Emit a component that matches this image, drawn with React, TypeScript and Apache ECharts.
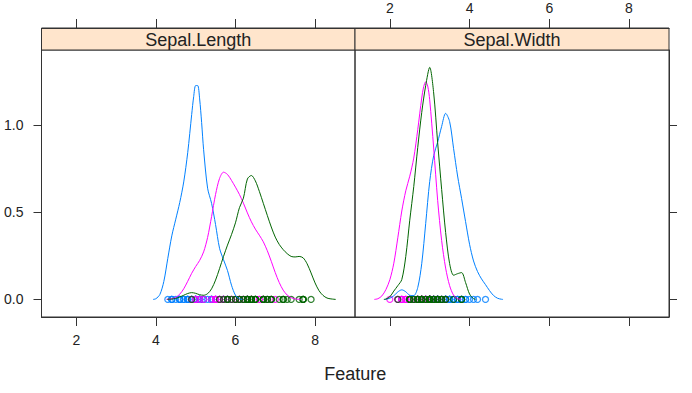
import React, { useEffect, useRef } from "react";
import * as echarts from "echarts";

// Panels (features) and species
const panels = ["Sepal.Length", "Sepal.Width"];
const speciesColors = ["#0080ff", "#ff00ff", "#006400"];

// Tick labels
const xTicks = [2, 4, 6, 8];
const yTicks = [0, 0.5, 1.0];
const xRange = [1.126, 9.004];
const yRange = [-0.101, 1.433];

// Raw observations (iris), drawn as points along y = 0
const setosaSL = [5.1,4.9,4.7,4.6,5.0,5.4,4.6,5.0,4.4,4.9,5.4,4.8,4.8,4.3,5.8,5.7,5.4,5.1,5.7,5.1,5.4,5.1,4.6,5.1,4.8,5.0,5.0,5.2,5.2,4.7,4.8,5.4,5.2,5.5,4.9,5.0,5.5,4.9,4.4,5.1,5.0,4.5,4.4,5.0,5.1,4.8,5.1,4.6,5.3,5.0];
const versicolorSL = [7.0,6.4,6.9,5.5,6.5,5.7,6.3,4.9,6.6,5.2,5.0,5.9,6.0,6.1,5.6,6.7,5.6,5.8,6.2,5.6,5.9,6.1,6.3,6.1,6.4,6.6,6.8,6.7,6.0,5.7,5.5,5.5,5.8,6.0,5.4,6.0,6.7,6.3,5.6,5.5,5.5,6.1,5.8,5.0,5.6,5.7,5.7,6.2,5.1,5.7];
const virginicaSL = [6.3,5.8,7.1,6.3,6.5,7.6,4.9,7.3,6.7,7.2,6.5,6.4,6.8,5.7,5.8,6.4,6.5,7.7,7.7,6.0,6.9,5.6,7.7,6.3,6.7,7.2,6.2,6.1,6.4,7.2,7.4,7.9,6.4,6.3,6.1,7.7,6.3,6.4,6.0,6.9,6.7,6.9,5.8,6.8,6.7,6.7,6.3,6.5,6.2,5.9];
const setosaSW = [3.5,3.0,3.2,3.1,3.6,3.9,3.4,3.4,2.9,3.1,3.7,3.4,3.0,3.0,4.0,4.4,3.9,3.5,3.8,3.8,3.4,3.7,3.6,3.3,3.4,3.0,3.4,3.5,3.4,3.2,3.1,3.4,4.1,4.2,3.1,3.2,3.5,3.6,3.0,3.4,3.5,2.3,3.2,3.5,3.8,3.0,3.8,3.2,3.7,3.3];
const versicolorSW = [3.2,3.2,3.1,2.3,2.8,2.8,3.3,2.4,2.9,2.7,2.0,3.0,2.2,2.9,2.9,3.1,3.0,2.7,2.2,2.5,3.2,2.8,2.5,2.8,2.9,3.0,2.8,3.0,2.9,2.6,2.4,2.4,2.7,2.7,3.0,3.4,3.1,2.3,3.0,2.5,2.6,3.0,2.6,2.3,2.7,3.0,2.9,2.9,2.5,2.8];
const virginicaSW = [3.3,2.7,3.0,2.9,3.0,3.0,2.5,2.9,2.5,3.6,3.2,2.7,3.0,2.5,2.8,3.2,3.0,3.8,2.6,2.2,3.2,2.8,2.8,2.7,3.3,3.2,2.8,3.0,2.8,3.0,2.8,3.8,2.8,2.8,2.6,3.0,3.4,3.1,3.0,3.1,3.1,3.1,2.7,3.2,3.3,3.0,2.5,3.0,3.4,3.0];

// Density curves [x, density]
const setosaSLDensity = [[3.93,0],[4.0,0.004],[4.1,0.028],[4.2,0.103],[4.3,0.236],[4.4,0.365],[4.5,0.461],[4.6,0.557],[4.7,0.675],[4.8,0.843],[4.9,1.062],[4.95,1.165],[5.0,1.229],[5.05,1.229],[5.1,1.152],[5.15,1.016],[5.2,0.860],[5.3,0.639],[5.4,0.552],[5.5,0.430],[5.6,0.294],[5.7,0.228],[5.8,0.166],[5.9,0.082],[6.0,0.024],[6.1,0.004],[6.17,0]];
const versicolorSLDensity = [[4.26,0],[4.3,0.001],[4.4,0.004],[4.5,0.012],[4.6,0.030],[4.7,0.061],[4.8,0.104],[4.9,0.150],[5.0,0.189],[5.1,0.224],[5.2,0.273],[5.3,0.356],[5.4,0.476],[5.5,0.603],[5.6,0.695],[5.7,0.731],[5.8,0.718],[5.9,0.684],[6.0,0.645],[6.1,0.603],[6.2,0.553],[6.3,0.497],[6.4,0.446],[6.5,0.404],[6.6,0.369],[6.7,0.331],[6.8,0.280],[6.9,0.219],[7.0,0.154],[7.1,0.097],[7.2,0.053],[7.3,0.025],[7.4,0.010],[7.5,0.003],[7.64,0]];
const virginicaSLDensity = [[4.28,0],[4.3,0.001],[4.4,0.002],[4.5,0.006],[4.6,0.014],[4.7,0.024],[4.8,0.034],[4.9,0.039],[5.0,0.035],[5.1,0.027],[5.2,0.024],[5.3,0.033],[5.4,0.061],[5.5,0.111],[5.6,0.177],[5.7,0.247],[5.8,0.312],[5.9,0.372],[6.0,0.440],[6.1,0.527],[6.2,0.582],[6.3,0.692],[6.4,0.712],[6.5,0.681],[6.6,0.621],[6.7,0.552],[6.8,0.483],[6.9,0.416],[7.0,0.358],[7.1,0.316],[7.2,0.286],[7.3,0.263],[7.4,0.247],[7.5,0.244],[7.6,0.247],[7.7,0.239],[7.8,0.205],[7.9,0.152],[8.0,0.095],[8.1,0.050],[8.2,0.023],[8.3,0.008],[8.4,0.003],[8.52,0]];
const setosaSWDensity = [[1.86,0],[1.9,0.001],[2.0,0.007],[2.1,0.021],[2.2,0.043],[2.3,0.055],[2.4,0.044],[2.5,0.024],[2.6,0.022],[2.7,0.068],[2.8,0.205],[2.9,0.437],[3.0,0.677],[3.1,0.826],[3.2,0.904],[3.3,0.994],[3.4,1.069],[3.5,1.022],[3.6,0.866],[3.7,0.709],[3.8,0.580],[3.9,0.447],[4.0,0.317],[4.1,0.221],[4.2,0.160],[4.3,0.118],[4.4,0.085],[4.5,0.051],[4.6,0.023],[4.7,0.007],[4.8,0.001],[4.84,0]];
const versicolorSWDensity = [[1.61,0],[1.7,0.004],[1.8,0.020],[1.9,0.056],[2.0,0.113],[2.1,0.208],[2.2,0.354],[2.3,0.508],[2.4,0.624],[2.5,0.708],[2.6,0.812],[2.7,0.975],[2.8,1.157],[2.85,1.223],[2.9,1.250],[2.95,1.226],[3.0,1.147],[3.1,0.870],[3.2,0.569],[3.3,0.338],[3.4,0.180],[3.5,0.079],[3.6,0.024],[3.7,0.005],[3.79,0]];
const virginicaSWDensity = [[1.85,0],[1.9,0.002],[2.0,0.015],[2.1,0.048],[2.2,0.079],[2.3,0.114],[2.4,0.247],[2.5,0.455],[2.6,0.648],[2.7,0.873],[2.8,1.074],[2.9,1.229],[3.0,1.333],[3.1,1.186],[3.2,0.900],[3.3,0.632],[3.4,0.385],[3.5,0.206],[3.6,0.139],[3.7,0.148],[3.8,0.154],[3.9,0.097],[4.0,0.031],[4.1,0.005],[4.15,0]];

const pointsByPanel = [
  [setosaSL, versicolorSL, virginicaSL],
  [setosaSW, versicolorSW, virginicaSW],
];
const densityByPanel = [
  [setosaSLDensity, versicolorSLDensity, virginicaSLDensity],
  [setosaSWDensity, versicolorSWDensity, virginicaSWDensity],
];

const FONT = "'Liberation Sans', Arial, sans-serif";
const AX = "#333333";
const TXT = "#222222";

const PANEL_TOP = 50;
const PANEL_H = 267;
const STRIP_H = 22;
const panelLeft = [41.5, 355];
const panelW = [313.5, 314];

export default function App() {
  const ref = useRef<HTMLDivElement>(null);

  useEffect(() => {
    if (!ref.current) return;
    const chart = echarts.init(ref.current, null, { renderer: "svg" });

    const grids = panels.map((_, i) => ({
      left: panelLeft[i],
      top: PANEL_TOP,
      width: panelW[i],
      height: PANEL_H,
      show: true,
      borderColor: AX,
      borderWidth: 1,
      backgroundColor: "transparent",
    }));

    const baseX = (gridIndex: number, position: string, showLabels: boolean, offset: number) => ({
      type: "value",
      gridIndex,
      position,
      offset,
      min: xRange[0],
      max: xRange[1],
      splitLine: { show: false },
      axisLine: { show: true, onZero: false, lineStyle: { color: AX, width: 1 } },
      axisTick: { show: true, inside: false, length: 9, customValues: xTicks, lineStyle: { color: AX } },
      axisLabel: {
        show: showLabels,
        customValues: xTicks,
        margin: position === "top" ? 13 : 16,
        color: TXT,
        fontFamily: FONT,
        fontSize: 14,
      },
    });

    const xAxes = [
      baseX(0, "bottom", true, 0),
      baseX(0, "top", false, STRIP_H),
      baseX(1, "bottom", false, 0),
      baseX(1, "top", true, STRIP_H),
    ];

    const baseY = (gridIndex: number, position: string, showLabels: boolean) => ({
      type: "value",
      gridIndex,
      position,
      min: yRange[0],
      max: yRange[1],
      splitLine: { show: false },
      axisLine: { show: true, onZero: false, lineStyle: { color: AX, width: 1 } },
      axisTick: { show: true, inside: false, length: 8, customValues: yTicks, lineStyle: { color: AX } },
      axisLabel: {
        show: showLabels,
        customValues: yTicks,
        margin: 18,
        color: TXT,
        fontFamily: FONT,
        fontSize: 14,
        formatter: (v: number) => v.toFixed(1),
      },
    });

    const yAxes = [baseY(0, "left", true), baseY(1, "right", false)];

    const series: any[] = [];
    panels.forEach((_, p) => {
      const xi = p === 0 ? 0 : 2;
      const yi = p;
      speciesColors.forEach((color, s) => {
        series.push({
          type: "scatter",
          xAxisIndex: xi,
          yAxisIndex: yi,
          data: pointsByPanel[p][s].map((v) => [v, 0]),
          symbol: "circle",
          symbolSize: 6,
          itemStyle: { color: "transparent", borderColor: color, borderWidth: 1.3 },
          silent: true,
        });
        series.push({
          type: "line",
          xAxisIndex: xi,
          yAxisIndex: yi,
          data: densityByPanel[p][s],
          showSymbol: false,
          symbol: "none",
          smooth: 0.3,
          lineStyle: { color, width: 1 },
          silent: true,
        });
      });
    });

    const graphics: any[] = [];
    panels.forEach((name, i) => {
      graphics.push({
        type: "rect",
        shape: { x: panelLeft[i], y: PANEL_TOP - STRIP_H, width: panelW[i], height: STRIP_H },
        style: { fill: "#ffe5cc", stroke: AX, lineWidth: 1 },
        silent: true,
      });
      graphics.push({
        type: "text",
        x: panelLeft[i] + panelW[i] / 2,
        y: PANEL_TOP - STRIP_H / 2 + 1,
        style: {
          text: name,
          fill: TXT,
          font: `18px ${FONT}`,
          align: "center",
          verticalAlign: "middle",
        },
        silent: true,
      });
    });
    graphics.push({
      type: "text",
      x: (panelLeft[0] + panelLeft[1] + panelW[1]) / 2,
      y: 374,
      style: {
        text: "Feature",
        fill: TXT,
        font: `18px ${FONT}`,
        align: "center",
        verticalAlign: "middle",
      },
      silent: true,
    });

    chart.setOption({
      animation: false,
      backgroundColor: "#ffffff",
      grid: grids,
      xAxis: xAxes,
      yAxis: yAxes,
      series,
      graphic: graphics,
    });

    return () => chart.dispose();
  }, []);

  return (
    <div
      ref={ref}
      style={{ position: "absolute", left: 0, top: 0, width: 692, height: 393 }}
    />
  );
}
